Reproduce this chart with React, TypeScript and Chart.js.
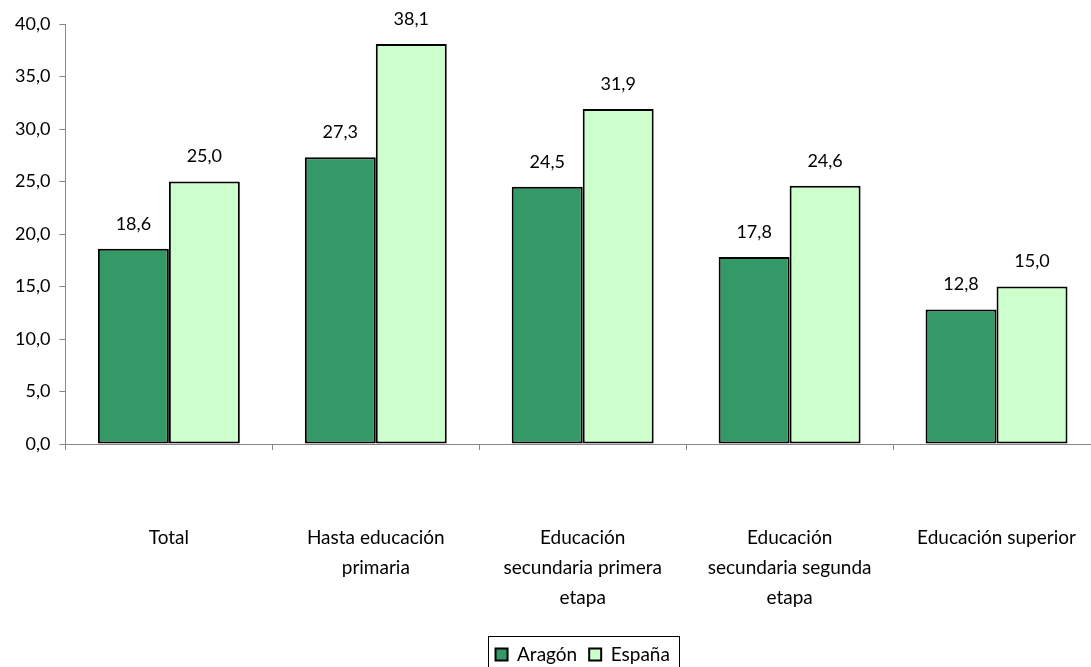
import React, { useEffect, useRef } from "react";
import { Chart, registerables } from "chart.js";

Chart.register(...registerables);

const categories: (string | string[])[] = [
  "Total",
  ["Hasta educación", "primaria"],
  ["Educación", "secundaria primera", "etapa"],
  ["Educación", "secundaria segunda", "etapa"],
  "Educación superior",
];
const aragon = [18.6, 27.3, 24.5, 17.8, 12.8];
const espana = [25.0, 38.1, 31.9, 24.6, 15.0];
const seriesNames = ["Aragón", "España"];

const FONT = "Lato, 'Open Sans', sans-serif";
const fmt = (v: number) => v.toFixed(1).replace(".", ",");

export default function App() {
  const ref = useRef<HTMLCanvasElement>(null);
  useEffect(() => {
    document.body.style.overflow = "hidden";
    const labelPlugin = {
      id: "valueLabels",
      afterDatasetsDraw(chart: any) {
        const ctx = chart.ctx;
        ctx.save();
        ctx.font = `18px ${FONT}`;
        ctx.fillStyle = "#000";
        ctx.textAlign = "center";
        ctx.textBaseline = "middle";
        chart.data.datasets.forEach((ds: any, i: number) => {
          const meta = chart.getDatasetMeta(i);
          meta.data.forEach((bar: any, j: number) => {
            ctx.fillText(fmt(ds.data[j]), bar.x, bar.y - 25);
          });
        });
        ctx.restore();
      },
    };
    const legendBorder = {
      id: "legendBorder",
      afterDraw(chart: any) {
        const lg = chart.legend;
        if (!lg || !lg.legendHitBoxes || !lg.legendHitBoxes.length) return;
        const boxes = lg.legendHitBoxes;
        const left = boxes[0].left - 8;
        const last = boxes[boxes.length - 1];
        const right = last.left + last.width + 9;
        const top = boxes[0].top - 9;
        const ctx = chart.ctx;
        ctx.save();
        ctx.strokeStyle = "#000";
        ctx.lineWidth = 1;
        ctx.strokeRect(Math.round(left) + 0.5, Math.round(top) + 0.5, Math.round(right - left), 40);
        ctx.restore();
      },
    };
    const chart = new Chart(ref.current!, {
      type: "bar",
      data: {
        labels: categories,
        datasets: [
          {
            label: seriesNames[0],
            data: aragon,
            backgroundColor: "#339966",
            borderColor: "#000",
            borderWidth: 2,
            borderSkipped: false,
            categoryPercentage: 0.686,
            barPercentage: 1,
          },
          {
            label: seriesNames[1],
            data: espana,
            backgroundColor: "#CCFFCC",
            borderColor: "#000",
            borderWidth: 2,
            borderSkipped: false,
            categoryPercentage: 0.686,
            barPercentage: 1,
          },
        ],
      },
      options: {
        responsive: false,
        animation: false,
        layout: { padding: { top: 24, left: 6, right: 0, bottom: -7 } },
        plugins: {
          tooltip: { enabled: false },
          legend: {
            position: "bottom",
            fullSize: false,
            labels: {
              font: { family: FONT, size: 19, lineHeight: 1 },
              color: "#000",
              boxWidth: 12,
              boxHeight: 12,
              padding: 12,
              generateLabels: (chart: any) =>
                chart.data.datasets.map((ds: any, i: number) => ({
                  text: ds.label,
                  fillStyle: ds.backgroundColor,
                  strokeStyle: "#000",
                  lineWidth: 2,
                  datasetIndex: i,
                  fontColor: "#000",
                })),
            },
          },
        },
        scales: {
          x: {
            afterFit: (scale: any) => {
              scale.paddingLeft = 0;
              scale.paddingRight = 0;
              scale.height = 189;
            },
            grid: {
              display: true,
              drawOnChartArea: false,
              drawTicks: true,
              tickLength: 6,
              color: "#868686",
            },
            border: { display: true, color: "#868686", width: 1 },
            ticks: {
              font: { family: FONT, size: 19, lineHeight: 30 / 19 },
              color: "#000",
              padding: 73,
              maxRotation: 0,
              autoSkip: false,
            },
          },
          y: {
            min: 0,
            max: 40,
            grid: {
              display: true,
              drawOnChartArea: false,
              drawTicks: true,
              tickLength: 6,
              color: "#868686",
            },
            border: { display: true, color: "#868686", width: 1 },
            ticks: {
              stepSize: 5,
              font: { family: FONT, size: 18 },
              color: "#000",
              padding: 9,
              callback: (v: any) => fmt(Number(v)),
            },
          },
        },
      },
      plugins: [labelPlugin, legendBorder],
    } as any);
    return () => chart.destroy();
  }, []);
  return (
    <div style={{ position: "fixed", left: 0, top: 0, width: 1100, height: 667, overflow: "hidden" }}>
      <canvas ref={ref} width={1100} height={667} />
    </div>
  );
}
